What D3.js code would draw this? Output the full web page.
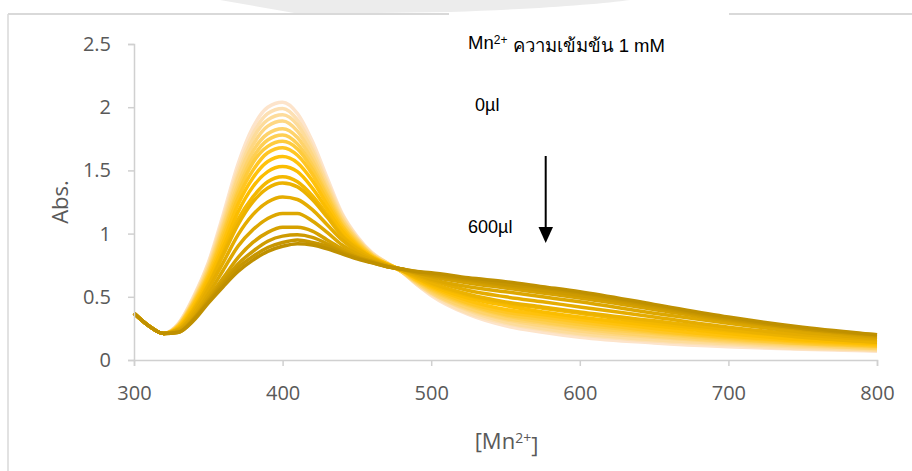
<!DOCTYPE html>
<html>
<head>
<meta charset="utf-8">
<script src="https://cdn.jsdelivr.net/npm/d3@7"></script>
<style>
  body { margin: 0; background: #fff; }
  svg { display: block; }
</style>
</head>
<body>
<div id="chart"></div>
<script>
// wavelength (nm) sampled along the x axis
const wavelengths = [300, 310, 320, 330, 340, 350, 360, 370, 380, 390, 400, 410, 420, 430, 440,
  450, 460, 470, 480, 490, 500, 525, 550, 575, 600, 650, 700, 750, 800];

// absorbance of each titration step, 0 µl (first) to 600 µl (last)
const spectra = [
  [.37,.27,.21,.29,.50,.77,1.15,1.55,1.84,2.00,2.04,1.95,1.73,1.44,1.16,.98,.85,.77,.70,.60,.51,.36,.27,.22,.18,.135,.105,.085,.07],
  [.37,.27,.21,.29,.49,.76,1.12,1.51,1.79,1.95,1.99,1.90,1.69,1.41,1.15,.97,.85,.77,.70,.60,.52,.37,.29,.24,.20,.15,.12,.09,.08],
  [.37,.27,.21,.28,.48,.74,1.10,1.47,1.75,1.90,1.94,1.86,1.66,1.39,1.13,.96,.84,.77,.70,.61,.53,.39,.30,.25,.21,.16,.13,.10,.08],
  [.37,.27,.21,.28,.47,.73,1.07,1.44,1.70,1.85,1.89,1.81,1.62,1.36,1.12,.96,.84,.77,.70,.61,.53,.40,.32,.27,.23,.18,.14,.11,.09],
  [.37,.27,.21,.28,.46,.71,1.05,1.39,1.65,1.79,1.83,1.76,1.58,1.34,1.10,.95,.83,.76,.70,.62,.54,.41,.33,.29,.25,.19,.15,.12,.09],
  [.37,.27,.21,.27,.46,.70,1.02,1.35,1.60,1.74,1.78,1.71,1.54,1.31,1.09,.94,.83,.76,.70,.62,.55,.43,.35,.30,.26,.21,.16,.13,.10],
  [.37,.27,.21,.27,.45,.68,1.00,1.32,1.56,1.69,1.73,1.67,1.51,1.29,1.07,.93,.83,.76,.71,.63,.56,.44,.36,.32,.28,.22,.17,.13,.11],
  [.37,.27,.21,.27,.44,.67,.97,1.28,1.50,1.64,1.68,1.62,1.47,1.26,1.06,.92,.82,.76,.71,.63,.57,.45,.38,.34,.30,.23,.18,.14,.11],
  [.37,.27,.21,.26,.43,.65,.93,1.23,1.44,1.57,1.61,1.56,1.42,1.23,1.04,.91,.82,.76,.71,.64,.58,.47,.40,.36,.32,.25,.19,.15,.12],
  [.37,.27,.21,.26,.41,.63,.89,1.17,1.37,1.49,1.53,1.49,1.36,1.19,1.02,.90,.81,.76,.71,.65,.59,.49,.43,.38,.34,.27,.21,.16,.13],
  [.37,.27,.21,.25,.40,.60,.85,1.11,1.29,1.41,1.45,1.41,1.30,1.15,.99,.89,.81,.75,.71,.65,.60,.51,.45,.41,.37,.29,.23,.18,.14],
  [.37,.27,.21,.25,.39,.59,.83,1.07,1.25,1.36,1.40,1.37,1.27,1.13,.98,.88,.81,.75,.71,.66,.61,.52,.46,.42,.38,.31,.24,.18,.14],
  [.37,.27,.21,.24,.37,.56,.77,.99,1.15,1.25,1.29,1.27,1.19,1.07,.95,.86,.80,.75,.71,.67,.63,.55,.50,.46,.42,.34,.26,.20,.16],
  [.37,.27,.21,.24,.35,.52,.71,.90,1.03,1.12,1.16,1.16,1.10,1.01,.91,.84,.79,.75,.72,.68,.64,.58,.54,.50,.46,.37,.29,.22,.17],
  [.37,.27,.21,.23,.33,.49,.65,.81,.93,1.01,1.05,1.05,1.02,.95,.88,.82,.78,.74,.72,.69,.66,.61,.57,.53,.49,.40,.31,.24,.18],
  [.37,.27,.21,.22,.32,.47,.62,.76,.86,.94,.98,.99,.97,.92,.86,.81,.78,.74,.72,.69,.67,.63,.59,.55,.51,.42,.32,.25,.19],
  [.37,.27,.21,.22,.32,.46,.60,.73,.82,.89,.93,.95,.93,.90,.85,.81,.77,.74,.72,.70,.68,.64,.60,.57,.53,.43,.33,.25,.20],
  [.37,.27,.21,.22,.31,.45,.58,.70,.79,.86,.90,.92,.91,.88,.84,.80,.77,.74,.72,.70,.69,.65,.62,.58,.54,.44,.34,.26,.20]
];

const xTicks = [300, 400, 500, 600, 700, 800];
const yTicks = [0, 0.5, 1, 1.5, 2, 2.5];

const svgWidth = 912;
const svgHeight = 471;
const margin = { top: 44, right: 35, bottom: 111, left: 134 };
const width = svgWidth - margin.left - margin.right;
const height = svgHeight - margin.top - margin.bottom;

const svg = d3.select("#chart")
  .append("svg")
  .attr("width", svgWidth)
  .attr("height", svgHeight);

// faint watermark band at the top edge
svg.append("path")
  .attr("d", "M220,0 L630,0 C600,4 540,9 450,12 L300,14 Z")
  .style("fill", "#ececec");

// outer frame (left and top, broken behind the note)
svg.append("line").attr("x1", 8).attr("x2", 8).attr("y1", 14).attr("y2", svgHeight)
  .style("stroke", "#d9d9d9").style("stroke-width", 1.5);
svg.append("line").attr("x1", 8).attr("x2", 449).attr("y1", 14).attr("y2", 14)
  .style("stroke", "#d9d9d9").style("stroke-width", 2);
svg.append("line").attr("x1", 729).attr("x2", svgWidth).attr("y1", 14).attr("y2", 14)
  .style("stroke", "#d9d9d9").style("stroke-width", 2);

const g = svg.append("g")
  .attr("transform", "translate(" + margin.left + "," + margin.top + ")");

const xScale = d3.scaleLinear().domain([300, 800]).range([0, width]);
const yScale = d3.scaleLinear().domain([0, 2.5]).range([height, 0]);

const colorScale = d3.scaleLinear()
  .domain([0, 0.5, 1])
  .range(["#fde4cb", "#ffc000", "#bf9000"]);

const line = d3.line()
  .x(function(d, i) { return xScale(wavelengths[i]); })
  .y(function(d) { return yScale(d); })
  .curve(d3.curveMonotoneX);

g.selectAll("path.spectrum")
  .data(spectra)
  .enter()
  .append("path")
  .attr("class", "spectrum")
  .attr("d", line)
  .style("fill", "none")
  .style("stroke", function(d, i) { return colorScale(i / (spectra.length - 1)); })
  .style("stroke-width", 3.5)
  .style("stroke-linejoin", "round");

const xAxis = d3.axisBottom(xScale)
  .tickValues(xTicks)
  .tickSize(6)
  .tickFormat(d3.format("d"));

const xAxisG = g.append("g")
  .attr("transform", "translate(0," + height + ")")
  .call(xAxis);
xAxisG.selectAll("text").attr("y", 39.5).attr("dy", null);

const yAxis = d3.axisLeft(yScale)
  .tickValues(yTicks)
  .tickSize(6)
  .tickPadding(17)
  .tickFormat(function(d) { return String(d); });

const yAxisG = g.append("g").call(yAxis);

[xAxisG, yAxisG].forEach(function(ax) {
  ax.selectAll("path, line").style("stroke", "#d0d0d0").style("stroke-width", 1.5);
  ax.selectAll("text")
    .style("fill", "#595959")
    .style("font-family", "'Open Sans', sans-serif")
    .style("font-size", "20px");
});

// axis titles
const xTitle = g.append("text")
  .attr("x", width / 2 + 1)
  .attr("y", 449 - margin.top)
  .style("text-anchor", "middle")
  .style("fill", "#595959")
  .style("font-family", "'Open Sans', sans-serif")
  .style("font-size", "22px");
xTitle.append("tspan").text("[Mn");
xTitle.append("tspan").attr("dy", "-0.45em").style("font-size", "14px").text("2+");
xTitle.append("tspan").attr("dy", "0.45em").text("]");

g.append("text")
  .attr("transform", "rotate(-90)")
  .attr("x", -height / 2)
  .attr("y", 68 - margin.left)
  .style("text-anchor", "middle")
  .style("fill", "#595959")
  .style("font-family", "'Open Sans', sans-serif")
  .style("font-size", "22px")
  .text("Abs.");

// note and titration arrow
const note = svg.append("g")
  .style("font-family", "'Liberation Sans', Arial, sans-serif")
  .style("fill", "#000");

const title = note.append("text").attr("x", 468).attr("y", 49).style("font-size", "18.5px");
title.append("tspan").text("Mn");
title.append("tspan").attr("dy", "-0.45em").style("font-size", "12px").text("2+");
title.append("tspan").attr("dy", "0.45em").text(" ความเข้มข้น 1 mM");

note.append("text").attr("x", 475).attr("y", 111).style("font-size", "18px").text("0µl");
note.append("text").attr("x", 468).attr("y", 233).style("font-size", "18px").text("600µl");

svg.append("line")
  .attr("x1", 545.7).attr("x2", 545.7)
  .attr("y1", 156).attr("y2", 228)
  .style("stroke", "#000").style("stroke-width", 2);
svg.append("path")
  .attr("d", "M538.5,227 L553,227 L545.7,243 Z")
  .style("fill", "#000");
</script>
</body>
</html>
